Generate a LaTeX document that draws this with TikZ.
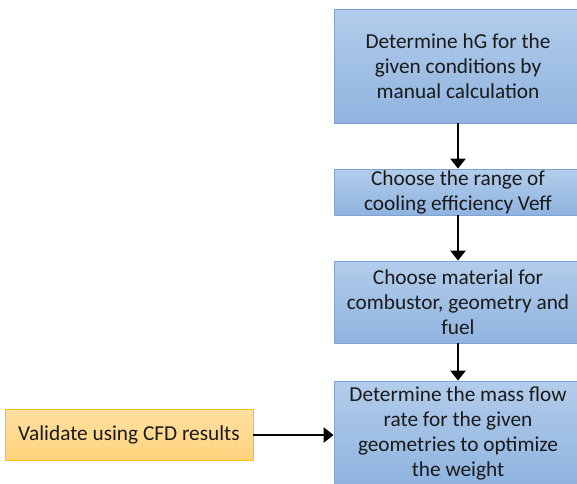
\documentclass[tikz,border=0pt]{standalone}
\usepackage{fontspec}
\setmainfont{Carlito}
\usetikzlibrary{arrows.meta}
\definecolor{bluetop}{HTML}{B3CDEB}
\definecolor{bluebot}{HTML}{8FB3DF}
\definecolor{blueedge}{HTML}{7EA3D0}
\definecolor{orgtop}{HTML}{FFE0A3}
\definecolor{orgbot}{HTML}{FFD27A}
\definecolor{orgedge}{HTML}{FFC000}
\definecolor{txt}{HTML}{1A1A1A}
\tikzset{
  bluebox/.style={draw=blueedge, line width=0.8pt, top color=bluetop, bottom color=bluebot,
    minimum width=248pt, align=center, font=\fontsize{21.3}{25}\selectfont, text=txt, inner sep=0pt},
  orangebox/.style={draw=orgedge, line width=0.8pt, top color=orgtop, bottom color=orgbot,
    minimum width=248pt, minimum height=51pt, align=center, font=\fontsize{21.3}{25}\selectfont, text=txt, inner sep=0pt},
  conn/.style={line width=2.6pt, -{Triangle[width=15pt,length=10pt]}}
}
\begin{document}
\begin{tikzpicture}[x=1pt,y=-1pt]
\useasboundingbox (0,0) rectangle (577,483);
\node[bluebox, minimum height=114pt] (b1) at (458,66) {Determine hG for the\\given conditions by\\manual calculation};
\node[bluebox, minimum height=46pt] (b2) at (458,192) {Choose the range of\\cooling efficiency Veff};
\node[bluebox, minimum height=82pt] (b3) at (458,302) {Choose material for\\combustor, geometry and\\fuel};
\node[bluebox, minimum height=104pt] (b4) at (458,433) {Determine the mass flow\\rate for the given\\geometries to optimize\\the weight};
\node[orangebox] (b5) at (129,435) {Validate using CFD results};
\draw[conn] (b1) -- (b2);
\draw[conn] (b2) -- (b3);
\draw[conn] (b3) -- (b4);
\draw[conn] (b5.east) -- (b5.east -| b4.west);
\end{tikzpicture}
\end{document}
